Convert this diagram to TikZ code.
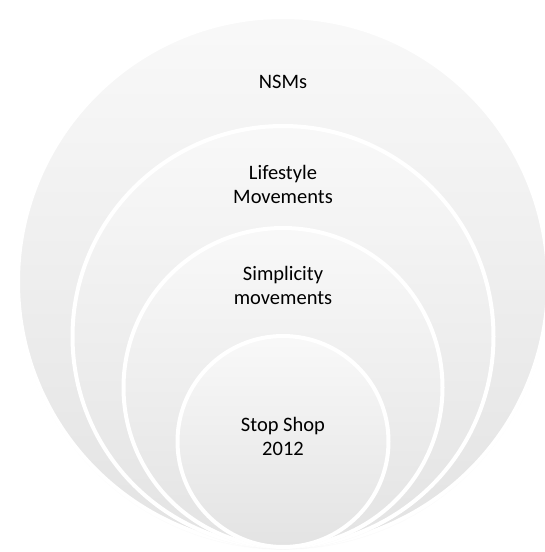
\documentclass[tikz,border=0pt]{standalone}
\usepackage{fontspec}
\setmainfont{Carlito}
\usetikzlibrary{shadows}

\begin{document}
\begin{tikzpicture}
% Style
[
    x=1pt, y=-1pt,
    ring/.style={
        circle, draw=white, line width=4pt, minimum size=#1, inner sep=0pt,
        top color=gray!5, bottom color=gray!22,
        circular drop shadow={shadow xshift=0pt, shadow yshift=-1.5pt, shadow scale=1.005, opacity=.6}
    },
    caption/.style={align=center, font=\fontsize{20.5}{24}\selectfont, text=black}
]
\useasboundingbox (0,0) rectangle (544,552);

%=================================== Start ===================================
{
    \foreach \r/\t/\s[count=\i] [
        evaluate={\d=2*\r-4},
        evaluate={\c=549-\r}
    ] in {267/82/NSMs, 212.5/184/{Lifestyle\\Movements}, 161.5/285.5/{Simplicity\\movements}, 107.5/436.5/{Stop Shop\\2012}} {
        \node[ring=\d pt] (ring-\i) at (283,\c) {};
        \node[caption] (txt-\i) at (283,\t) {\s};
    }
}
%==================================== END ====================================

\end{tikzpicture}
\end{document}
